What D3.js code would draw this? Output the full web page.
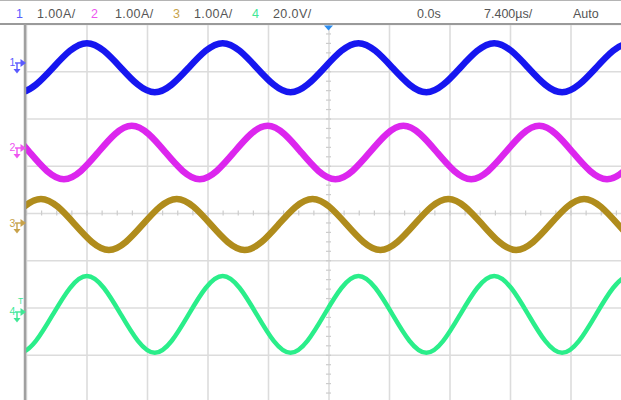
<!DOCTYPE html>
<html><head><meta charset="utf-8">
<script src="https://cdn.jsdelivr.net/npm/d3@7"></script>
<style>html,body{margin:0;padding:0;background:#fff;overflow:hidden}</style>
</head><body><svg id="c" width="621" height="400"></svg>
<script>
// ---- data ----
const channelNames = ["1", "2", "3", "4"];
const scaleLabels = ["1.00A/", "1.00A/", "1.00A/", "20.0V/"];
const unitsPerDiv = [1, 1, 1, 20];
const markerDiv = [3.175, 1.376, -0.212, -2.095];   // ground marker position (div)
const timeLabel = "0.0s";
const timebaseLabel = "7.400µs/";
const modeLabel = "Auto";
const xGrid = [-37, -29.6, -22.2, -14.8, -7.4, 0, 7.4, 14.8, 22.2, 29.6, 37]; // µs
const yGrid = [-4, -3, -2, -1, 0, 1, 2, 3, 4];                                  // div

// channel 1 and 4 share sample times (µs)
const timeA = [-42.01,-37.85,-33.70,-29.55,-25.40,-21.25,-17.10,-12.94,-8.79,-4.64,-0.49,3.66,7.82,11.97,16.12,20.27,24.42,28.57,32.73,36.88,41.03];
const ch1 = [-0.10,-0.62,-0.10,0.42,-0.10,-0.62,-0.10,0.42,-0.10,-0.62,-0.10,0.42,-0.10,-0.62,-0.10,0.42,-0.10,-0.62,-0.10,0.42,-0.10];
const ch4 = [-1.0,-17.3,-1.0,15.2,-1.0,-17.3,-1.0,15.2,-1.0,-17.3,-1.0,15.2,-1.0,-17.3,-1.0,15.2,-1.0,-17.3,-1.0,15.2,-1.0];
const time2 = [-44.82,-40.66,-36.51,-32.36,-28.21,-24.06,-19.90,-15.75,-11.60,-7.45,-3.30,0.85,5.01,9.16,13.31,17.46,21.61,25.77,29.92,34.07,38.22];
const ch2 = [-0.10,0.47,-0.10,-0.66,-0.10,0.47,-0.10,-0.66,-0.10,0.47,-0.10,-0.66,-0.10,0.47,-0.10,-0.66,-0.10,0.47,-0.10,-0.66,-0.10];
const time3 = [-39.32,-35.17,-31.02,-26.86,-22.71,-18.56,-14.41,-10.26,-6.11,-1.95,2.20,6.35,10.50,14.65,18.81,22.96,27.11,31.26,35.41,39.56,43.72];
const ch3 = [-0.03,0.51,-0.03,-0.57,-0.03,0.51,-0.03,-0.57,-0.03,0.51,-0.03,-0.57,-0.03,0.51,-0.03,-0.57,-0.03,0.51,-0.03,-0.57,-0.03];

const traceColors = ["#1818f0", "#dc26ee", "#b08c1a", "#2aee8a"];
const labelColors = ["#5a5aff", "#ee55f0", "#c8a24a", "#40e896"];
const traceWidths = [6.5, 6.5, 6.5, 4.5];

(function () {
// ---- layout ----
const svg = d3.select("#c");
const pLeft = 26, pRight = 631, pTop = 24, pBottom = 402;
const x = d3.scaleLinear().domain([-37, 37]).range([pLeft, pRight]);
const y = d3.scaleLinear().domain([-4, 4]).range([pBottom, pTop]);

svg.append("rect").attr("width", 621).attr("height", 400).attr("fill", "#fff");
const defs = svg.append("defs");
defs.append("filter").attr("id", "soft").attr("x", "-5%").attr("y", "-20%").attr("width", "110%").attr("height", "140%")
  .append("feGaussianBlur").attr("stdDeviation", 0.45);

// grid
const grid = svg.append("g");
grid.append("g").attr("transform", `translate(0,${pTop})`)
  .call(d3.axisBottom(x).tickValues(xGrid).tickSize(pBottom - pTop).tickFormat(""))
  .call(g => { g.select(".domain").remove(); g.selectAll("line").attr("stroke", "#dcdcdc").attr("stroke-width", 1.6); });
grid.append("g").attr("transform", `translate(${pLeft},0)`)
  .call(d3.axisRight(y).tickValues(yGrid).tickSize(pRight - pLeft).tickFormat(""))
  .call(g => { g.select(".domain").remove(); g.selectAll("line").attr("stroke", "#dcdcdc").attr("stroke-width", 1.6); });

// center axis minor ticks
const xMinor = d3.range(-37, 37.01, 7.4 / 4);
const yMinor = d3.range(-4, 4.01, 0.2);
grid.append("g").attr("transform", `translate(0,${y(0) - 2.5})`)
  .call(d3.axisBottom(x).tickValues(xMinor).tickSize(5).tickFormat(""))
  .call(g => { g.select(".domain").remove(); g.selectAll("line").attr("stroke", "#cccccc").attr("stroke-width", 1.2); });
grid.append("g").attr("transform", `translate(${x(0) - 2.5},0)`)
  .call(d3.axisRight(y).tickValues(yMinor).tickSize(5).tickFormat(""))
  .call(g => { g.select(".domain").remove(); g.selectAll("line").attr("stroke", "#cccccc").attr("stroke-width", 1.2); });

// traces
svg.append("clipPath").attr("id", "clip").append("rect")
  .attr("x", pLeft).attr("y", pTop + 1).attr("width", pRight - pLeft).attr("height", pBottom - pTop);
const series = [[timeA, ch1], [time2, ch2], [time3, ch3], [timeA, ch4]];
const traces = svg.append("g").attr("clip-path", "url(#clip)");
series.forEach(([ts, vs], i) => {
  const pts = ts.map((t, j) => ({ t, v: vs[j] }));
  const line = d3.line()
    .x(d => x(d.t))
    .y(d => y(markerDiv[i] + d.v / unitsPerDiv[i]))
    .curve(d3.curveNatural);
  traces.append("path").attr("d", line(pts)).attr("fill", "none")
    .attr("stroke", traceColors[i]).attr("stroke-width", traceWidths[i])
    .attr("stroke-linecap", "round").attr("stroke-linejoin", "round")
    .attr("filter", "url(#soft)");
});

// borders
svg.append("line").attr("x1", 0).attr("x2", 621).attr("y1", 0.5).attr("y2", 0.5).attr("stroke", "#b4b4b4").attr("stroke-width", 1);
svg.append("line").attr("x1", 0).attr("x2", 621).attr("y1", pTop).attr("y2", pTop).attr("stroke", "#9a9a9a").attr("stroke-width", 2);
svg.append("line").attr("x1", 25).attr("x2", 25).attr("y1", pTop).attr("y2", 400).attr("stroke", "#a0a0a0").attr("stroke-width", 2.5);

// trigger position marker
svg.append("path").attr("d", `M${x(0) - 4.5},${pTop + 1.5} L${x(0) + 4.5},${pTop + 1.5} L${x(0)},${pTop + 6.5} Z`).attr("fill", "#2a8cf0");

// channel ground markers
const font = "Liberation Sans, Arial, sans-serif";
channelNames.forEach((name, i) => {
  const my = y(markerDiv[i]);
  const g = svg.append("g").attr("fill", labelColors[i]).attr("stroke", labelColors[i]);
  g.append("text").attr("x", 9.5).attr("y", my + 3.5).attr("stroke", "none")
    .attr("font-family", font).attr("font-size", 10.5).text(name);
  g.append("line").attr("x1", 15).attr("x2", 21).attr("y1", my).attr("y2", my).attr("stroke-width", 1.4);
  g.append("path").attr("d", `M20.5,${my - 4} L26,${my} L20.5,${my + 4} Z`).attr("stroke", "none");
  g.append("line").attr("x1", 17).attr("x2", 17).attr("y1", my).attr("y2", my + 7).attr("stroke-width", 1.4);
  g.append("path").attr("d", `M13.5,${my + 6} L20.5,${my + 6} L17,${my + 10.5} Z`).attr("stroke", "none");
});
// trigger level "T" on channel 4
svg.append("text").attr("x", 18).attr("y", y(markerDiv[3]) - 8).attr("fill", labelColors[3])
  .attr("font-family", font).attr("font-size", 8.5).text("T");

// top status bar
const bar = svg.append("g").attr("font-family", font).attr("font-size", 12.5);
const numX = [16, 91, 173, 252];
const lblX = [37, 115, 194, 273];
channelNames.forEach((name, i) => {
  bar.append("text").attr("x", numX[i]).attr("y", 18).attr("fill", labelColors[i]).text(name);
  bar.append("text").attr("x", lblX[i]).attr("y", 18).attr("fill", "#555").attr("letter-spacing", 0.4).text(scaleLabels[i]);
});
bar.append("text").attr("x", 417).attr("y", 18).attr("fill", "#555").text(timeLabel);
bar.append("text").attr("x", 484).attr("y", 18).attr("fill", "#555").text(timebaseLabel);
bar.append("text").attr("x", 573).attr("y", 18).attr("fill", "#555").text(modeLabel);
})();
</script>
</body></html>
